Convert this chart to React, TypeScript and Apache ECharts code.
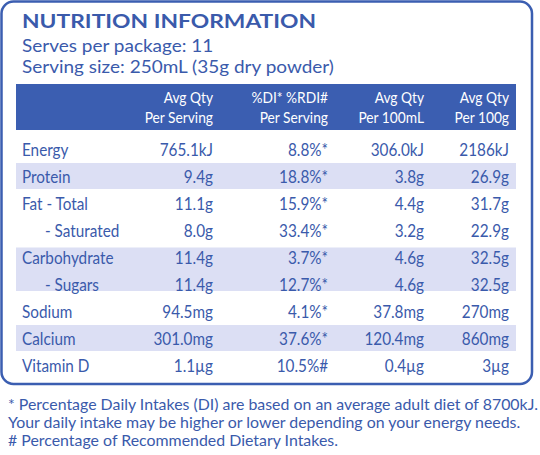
import React, { useEffect, useRef } from 'react';
import * as echarts from 'echarts';

const titleText = 'NUTRITION INFORMATION';
const subtitleLines = ['Serves per package: 11', 'Serving size: 250mL (35g dry powder)'];
const headerTop = ['Avg Qty', '%DI* %RDI#', 'Avg Qty', 'Avg Qty'];
const headerBottom = ['Per Serving', 'Per Serving', 'Per 100mL', 'Per 100g'];
const rowLabels = ['Energy', 'Protein', 'Fat - Total', '- Saturated', 'Carbohydrate', '- Sugars', 'Sodium', 'Calcium', 'Vitamin D'];
const perServing = ['765.1kJ', '9.4g', '11.1g', '8.0g', '11.4g', '11.4g', '94.5mg', '301.0mg', '1.1µg'];
const pctIntake = ['8.8%*', '18.8%*', '15.9%*', '33.4%*', '3.7%*', '12.7%*', '4.1%*', '37.6%*', '10.5%#'];
const per100mL = ['306.0kJ', '3.8g', '4.4g', '3.2g', '4.6g', '4.6g', '37.8mg', '120.4mg', '0.4µg'];
const per100g = ['2186kJ', '26.9g', '31.7g', '22.9g', '32.5g', '32.5g', '270mg', '860mg', '3µg'];
const shadedGroups = [[1, 1], [4, 5], [7, 7]];
const footnotes = [
  '* Percentage Daily Intakes (DI) are based on an average adult diet of 8700kJ.',
  'Your daily intake may be higher or lower depending on your energy needs.',
  '# Percentage of Recommended Dietary Intakes.',
];

const FONT = 'Lato';
const BLUE = '#3a5aab';
const HEADER_BLUE = '#3b5eb1';
const BAND = '#dcdff4';
const COL_RIGHT = [213, 328, 424, 509];
const LABEL_X = 22;
const SUB_X = 45;
const BODY_SIZE = 17;
const BODY_SX = 0.9;
const TABLE_TOP = 136;
const TABLE_H = 243;

const columns = [perServing, pctIntake, per100mL, per100g];

function txt(text: string, x: number, y: number, size: number, opts: any = {}) {
  return {
    type: 'text',
    x,
    y,
    scaleX: opts.sx ?? 1,
    style: {
      text,
      fill: opts.fill ?? BLUE,
      fontSize: size,
      fontFamily: FONT,
      fontWeight: opts.weight ?? 'normal',
      align: opts.align ?? 'left',
      verticalAlign: 'middle',
    },
  };
}

export default function App() {
  const ref = useRef<HTMLDivElement>(null);
  useEffect(() => {
    document.body.style.margin = '0';
    const chart = echarts.init(ref.current!, null, { renderer: 'svg' });
    const graphics: any[] = [
      {
        type: 'rect',
        shape: { x: 1.5, y: 1.5, width: 530.5, height: 382.5, r: 12 },
        style: { fill: 'none', stroke: HEADER_BLUE, lineWidth: 2.5 },
      },
      {
        type: 'rect',
        shape: { x: 16, y: 84, width: 500, height: 46 },
        style: { fill: HEADER_BLUE },
      },
      txt(titleText, 22, 21, 19.5, { weight: 'bold', sx: 1.17 }),
      ...subtitleLines.map((t, i) => txt(t, 22, 45 + i * 21.5, 17.5, { sx: 1.085 })),
      ...headerTop.map((t, c) => txt(t, COL_RIGHT[c], 97, 16, { fill: '#ffffff', align: 'right', sx: 0.86 })),
      ...headerBottom.map((t, c) => txt(t, COL_RIGHT[c], 116.5, 16, { fill: '#ffffff', align: 'right', sx: 0.86 })),
      ...footnotes.map((t, i) => txt(t, 8, 404 + i * 18, 15.3, { sx: 1.04 })),
    ];

    const option: any = {
      animation: false,
      grid: { left: 0, right: 0, top: TABLE_TOP, height: TABLE_H },
      xAxis: { type: 'value', min: 0, max: 540, show: false },
      yAxis: { type: 'category', data: rowLabels, inverse: true, show: false },
      graphic: graphics,
      series: [
        {
          type: 'custom',
          silent: true,
          data: shadedGroups.map((g) => [0, g[0], g[1]]),
          renderItem: (params: any, api: any) => {
            const g = shadedGroups[params.dataIndex];
            const half = api.size([0, 1])[1] / 2;
            const single = g[0] === g[1];
            const top = api.coord([0, g[0]])[1] - (single ? half : 10);
            const bottom = api.coord([0, g[1]])[1] + (single ? half - 1 : 6.5);
            const x0 = api.coord([16, g[0]])[0];
            const x1 = api.coord([516, g[0]])[0];
            return {
              type: 'rect',
              shape: { x: x0, y: top, width: x1 - x0, height: bottom - top },
              style: { fill: BAND },
            };
          },
        },
        {
          type: 'custom',
          silent: true,
          data: rowLabels.map((_, i) => [0, i]),
          renderItem: (params: any, api: any) => {
            const i = params.dataIndex;
            const cy = api.coord([0, i])[1];
            const label = rowLabels[i];
            const isSub = label.startsWith('- ');
            const children: any[] = [
              txt(label, api.coord([isSub ? SUB_X : LABEL_X, i])[0], cy, BODY_SIZE, { sx: BODY_SX }),
            ];
            columns.forEach((col, c) => {
              children.push(
                txt(col[i], api.coord([COL_RIGHT[c], i])[0], cy, BODY_SIZE, { align: 'right', sx: BODY_SX })
              );
            });
            return { type: 'group', children };
          },
        },
      ],
    };
    chart.setOption(option);
    return () => chart.dispose();
  }, []);
  return <div ref={ref} style={{ position: 'absolute', left: 0, top: 0, width: 540, height: 455 }} />;
}
